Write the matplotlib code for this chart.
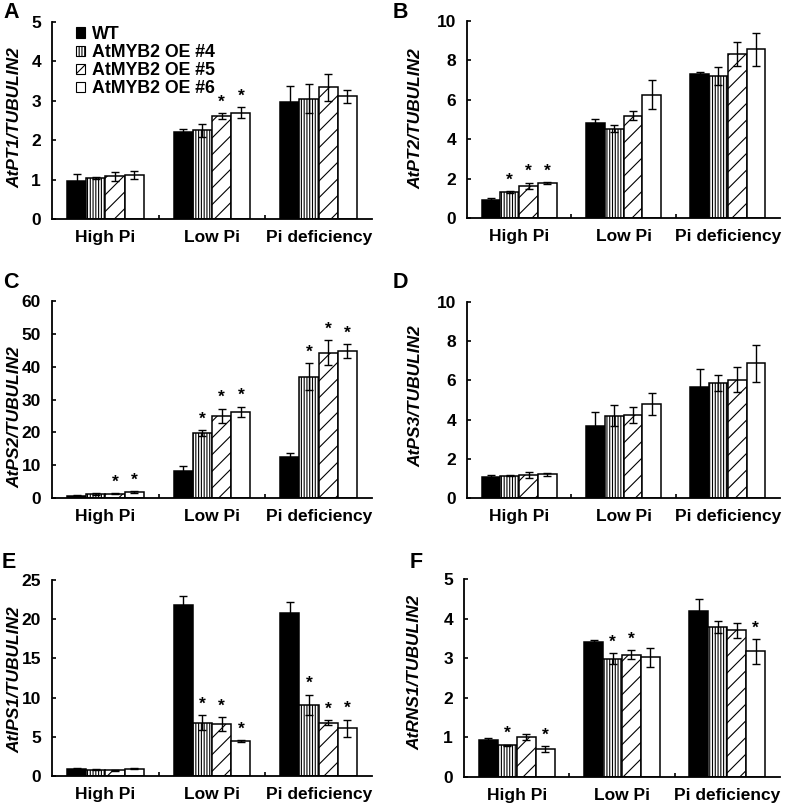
import numpy as np, matplotlib
matplotlib.use('Agg'); import matplotlib.pyplot as plt
from matplotlib.patches import Patch

plt.rcParams['font.family'] = ['Liberation Sans', 'DejaVu Sans']
plt.rcParams['font.weight'] = 'bold'
plt.rcParams['hatch.linewidth'] = 0.8

conditions = ['High Pi', 'Low Pi', 'Pi deficiency']
lines = ['WT', 'AtMYB2 OE #4', 'AtMYB2 OE #5', 'AtMYB2 OE #6']

# rows = condition, cols = line (WT, OE#4, OE#5, OE#6)
pt1 = [[0.97, 1.04, 1.08, 1.12], [2.22, 2.25, 2.61, 2.70], [2.97, 3.05, 3.34, 3.11]]
pt1_err = [[0.16, 0.02, 0.11, 0.11], [0.07, 0.17, 0.08, 0.14], [0.40, 0.37, 0.35, 0.16]]
pt1_sig = [[0, 0, 0, 0], [0, 0, 1, 1], [0, 0, 0, 0]]

pt2 = [[0.90, 1.32, 1.64, 1.76], [4.80, 4.53, 5.19, 6.25], [7.29, 7.22, 8.34, 8.56]]
pt2_err = [[0.12, 0.06, 0.16, 0.05], [0.20, 0.18, 0.23, 0.73], [0.14, 0.45, 0.61, 0.83]]
pt2_sig = [[0, 1, 1, 1], [0, 0, 0, 0], [0, 0, 0, 0]]

ps2 = [[0.7, 1.2, 1.3, 1.7], [8.3, 19.8, 25.0, 26.3], [12.4, 37.0, 44.2, 44.7]]
ps2_err = [[0.2, 0.2, 0.2, 0.3], [1.4, 0.8, 2.2, 1.5], [1.3, 4.0, 3.8, 2.2]]
ps2_sig = [[0, 0, 1, 1], [0, 1, 1, 1], [0, 1, 1, 1]]

ps3 = [[1.05, 1.13, 1.18, 1.22], [3.68, 4.20, 4.24, 4.80], [5.66, 5.86, 6.03, 6.88]]
ps3_err = [[0.13, 0.03, 0.17, 0.08], [0.71, 0.52, 0.40, 0.55], [0.93, 0.42, 0.64, 0.94]]
ps3_sig = [[0, 0, 0, 0], [0, 0, 0, 0], [0, 0, 0, 0]]

ips1 = [[0.90, 0.80, 0.75, 0.94], [21.8, 6.8, 6.6, 4.5], [20.75, 9.1, 6.8, 6.1]]
ips1_err = [[0.15, 0.05, 0.05, 0.03], [1.15, 0.94, 0.90, 0.10], [1.49, 1.28, 0.30, 1.10]]
ips1_sig = [[0, 0, 0, 0], [0, 1, 1, 1], [0, 1, 1, 1]]

rns1 = [[0.93, 0.80, 1.01, 0.70], [3.40, 2.99, 3.09, 3.02], [4.20, 3.79, 3.71, 3.17]]
rns1_err = [[0.06, 0.02, 0.08, 0.08], [0.06, 0.14, 0.11, 0.23], [0.30, 0.16, 0.19, 0.31]]
rns1_sig = [[0, 1, 0, 1], [0, 1, 1, 0], [0, 0, 0, 1]]

panels = [
    ('A', 'AtPT1/TUBULIN2', pt1, pt1_err, pt1_sig, 5, 1),
    ('B', 'AtPT2/TUBULIN2', pt2, pt2_err, pt2_sig, 10, 2),
    ('C', 'AtPS2/TUBULIN2', ps2, ps2_err, ps2_sig, 60, 10),
    ('D', 'AtPS3/TUBULIN2', ps3, ps3_err, ps3_sig, 10, 2),
    ('E', 'AtIPS1/TUBULIN2', ips1, ips1_err, ips1_sig, 25, 5),
    ('F', 'AtRNS1/TUBULIN2', rns1, rns1_err, rns1_sig, 5, 1),
]

W, H = 785, 805
# axes boxes in pixels: left, top, right, bottom
boxes = [(52, 22, 372, 219), (467, 21, 780, 218),
         (52, 301, 372, 498), (467, 302, 780, 498),
         (52, 580, 372, 776), (464, 579, 780, 777)]
letter_pos = [(3, 2), (393, 2), (3, 272), (393, 272), (2, 552), (410, 552)]
ylab_x = [22, 423, 22, 423, 22, 422]
ylab_y = [0.515, 0.505, 0.41, 0.52, 0.49, 0.53]

faces = ['black', 'white', 'white', 'white']
hatches = [None, '||||||', '//', None]
bw = 0.18

fig = plt.figure(figsize=(W / 100, H / 100), dpi=100)
for i, (letter, ylab, vals, errs, sig, ymax, ystep) in enumerate(panels):
    l, t, r, b = boxes[i]
    ax = fig.add_axes([l / W, 1 - b / H, (r - l) / W, (b - t) / H])
    vals = np.array(vals); errs = np.array(errs); sig = np.array(sig)
    xc = np.arange(len(conditions))
    for j in range(len(lines)):
        x = xc + (j - 1.5) * bw
        ax.bar(x, vals[:, j], bw, color=faces[j], edgecolor='black', hatch=hatches[j],
               linewidth=1.1, zorder=2)
        ax.errorbar(x, vals[:, j], yerr=errs[:, j], fmt='none', ecolor='black',
                    elinewidth=1.0, capsize=3, capthick=1.0, zorder=3)
        for k in range(len(conditions)):
            if sig[k, j]:
                ax.annotate('*', (x[k], vals[k, j] + errs[k, j]), xytext=(0, 2.5),
                            textcoords='offset points', ha='center', va='bottom',
                            fontsize=12.5, fontweight='bold')
    ax.set_xlim(-0.5, 2.5)
    ax.set_ylim(0, ymax)
    ax.set_yticks(np.arange(0, ymax + ystep / 2, ystep))
    ax.set_xticks([0.5, 1.5])
    ax.set_xticklabels([])
    ax.set_xticks(xc, minor=True)
    ax.set_xticklabels(conditions, minor=True, fontsize=12.5, fontweight='bold')
    ax.tick_params(axis='x', which='major', direction='in', length=3, width=1.2)
    ax.tick_params(axis='x', which='minor', length=0, pad=8)
    ax.tick_params(axis='y', direction='in', length=3, width=1.2, labelsize=12.5, pad=8)
    for s in ['top', 'right']:
        ax.spines[s].set_visible(False)
    for s in ['left', 'bottom']:
        ax.spines[s].set_linewidth(1.3)
    ax.set_ylabel(ylab, fontsize=12.5, fontweight='bold', fontstyle='italic')
    ax.yaxis.set_label_coords((ylab_x[i] - l) / (r - l), ylab_y[i])
    lx, ly = letter_pos[i]
    fig.text(lx / W, 1 - ly / H, letter, fontsize=15.5, fontweight='bold', va='top', ha='left')
    if i == 0:
        handles = [Patch(facecolor=faces[j], edgecolor='black', hatch=hatches[j], linewidth=0.8)
                   for j in range(len(lines))]
        ax.legend(handles, lines, loc='upper left', bbox_to_anchor=(0.075, 0.98),
                  frameon=False, handlelength=0.52, handleheight=0.52,
                  handletextpad=0.4, labelspacing=0.06, borderpad=0, borderaxespad=0,
                  prop={'weight': 'bold', 'size': 12.8})

fig.savefig('out.png', dpi=100)
print('saved out.png')
